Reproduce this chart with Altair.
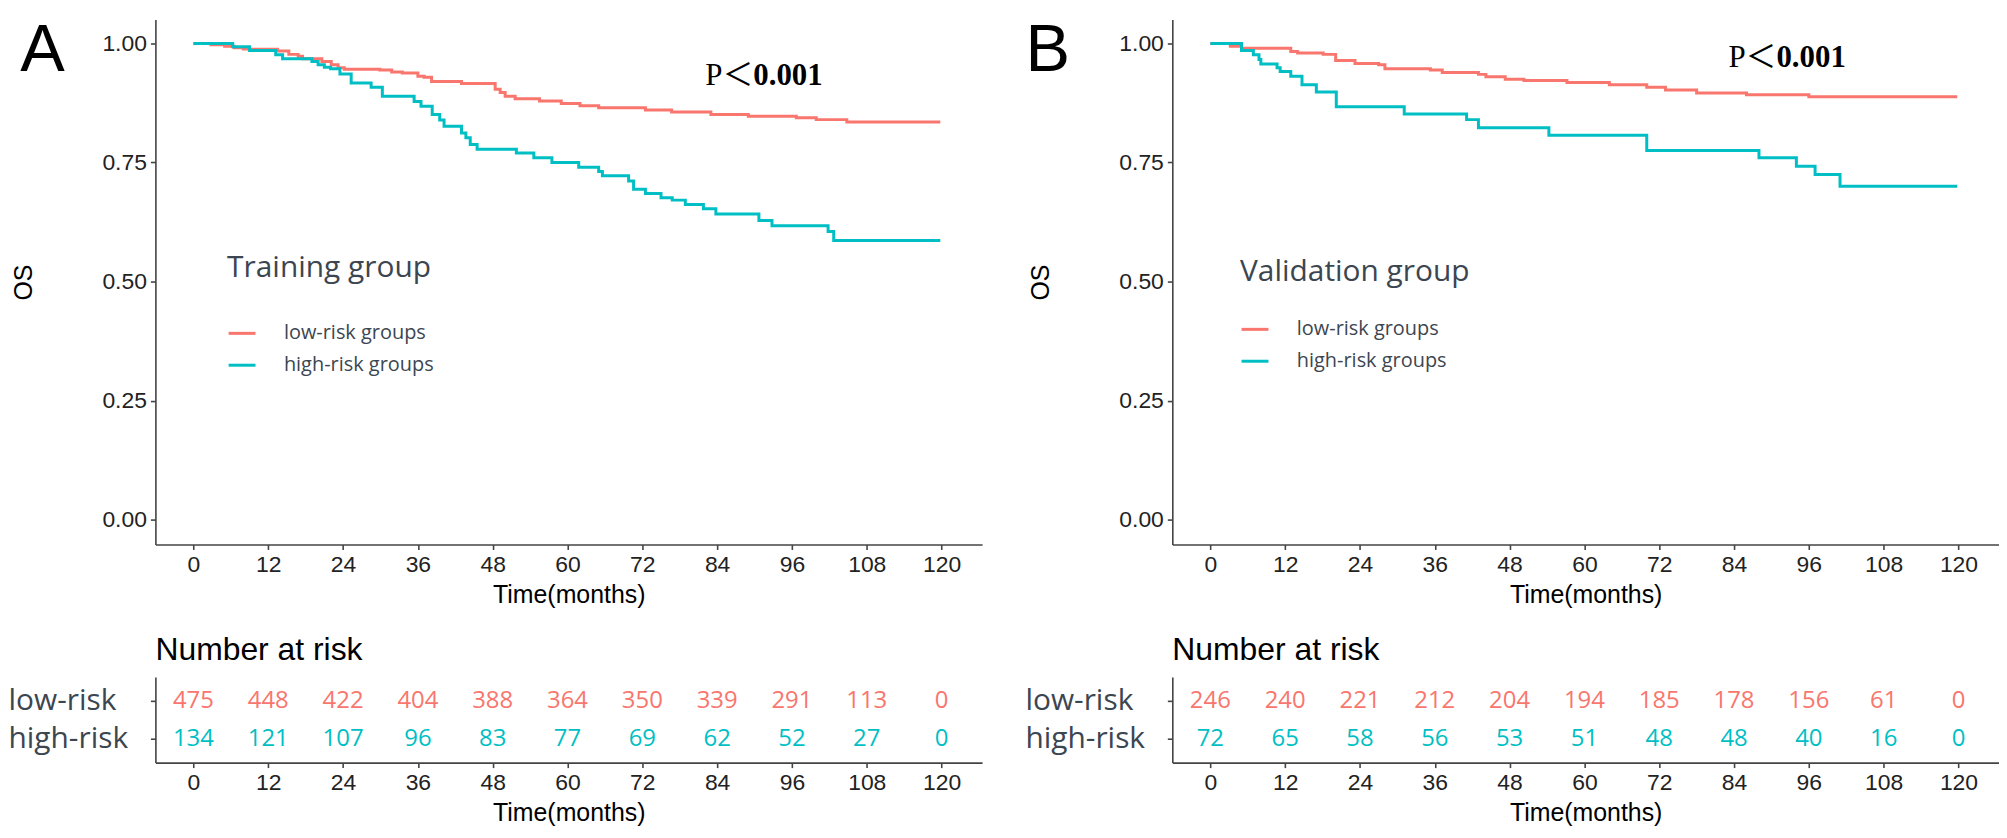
import altair as alt
import pandas as pd

# ---------------- data ----------------
ticks = [0, 12, 24, 36, 48, 60, 72, 84, 96, 108, 120]
y_ticks = [0.0, 0.25, 0.5, 0.75, 1.0]
groups = ["low-risk groups", "high-risk groups"]
rows = ["low-risk", "high-risk"]

# Training group (panel A) Kaplan-Meier steps
train_low_t = [0, 2.8, 5, 6.5, 8, 13.5, 15.3, 16.8, 17.5, 20.6, 22.1, 23.2, 24.2, 29.9, 31.8,
               33.5, 36, 37, 38.2, 43, 48.4, 49.2, 50, 51.6, 55.5, 59, 62, 65, 72.5, 76.7,
               83, 89, 96.7, 99.9, 104.8, 119.8]
train_low_s = [1.0, 0.997, 0.994, 0.991, 0.988, 0.984, 0.977, 0.973, 0.968, 0.962, 0.955, 0.949,
               0.946, 0.944, 0.940, 0.938, 0.931, 0.929, 0.920, 0.916, 0.904, 0.897, 0.889, 0.884,
               0.879, 0.874, 0.869, 0.865, 0.860, 0.856, 0.851, 0.847, 0.844, 0.840, 0.835, 0.835]
train_high_t = [0, 6.3, 9, 13.2, 14.3, 19, 20, 21, 22, 23.5, 25.3, 28.5, 30.3, 35.4, 36.5, 38.3,
                39.5, 40.2, 43, 43.7, 44.4, 45.5, 51.8, 54.6, 57.5, 61.8, 65, 65.6, 69.8, 70.6,
                72.5, 75, 76.8, 78.9, 81.8, 83.8, 90.7, 92.8, 101.8, 102.7, 119.8]
train_high_s = [1.0, 0.993, 0.985, 0.976, 0.968, 0.962, 0.955, 0.950, 0.947, 0.936, 0.917, 0.908,
                0.889, 0.878, 0.868, 0.851, 0.839, 0.826, 0.812, 0.802, 0.788, 0.778, 0.770,
                0.760, 0.750, 0.740, 0.731, 0.722, 0.711, 0.694, 0.685, 0.676, 0.671, 0.662,
                0.653, 0.642, 0.628, 0.617, 0.605, 0.586, 0.586]

# Validation group (panel B)
valid_low_t = [0, 3.2, 5, 12.9, 14, 18.1, 20.1, 23.2, 27, 28, 35.3, 37.2, 43, 44.2, 47.3, 50.3,
               57.2, 64, 70, 73, 78, 86, 96, 119.8]
valid_low_s = [1.0, 0.994, 0.990, 0.983, 0.980, 0.977, 0.964, 0.958, 0.955, 0.947, 0.944, 0.939,
               0.935, 0.930, 0.925, 0.922, 0.918, 0.913, 0.908, 0.902, 0.896, 0.892, 0.888, 0.888]
valid_high_t = [0, 5, 6.9, 7.8, 8.1, 10.7, 11.2, 12.9, 14.7, 17.0, 20.2, 31.1, 41.1, 43, 54.3,
                70, 88, 94, 97, 101, 119.8]
valid_high_s = [1.0, 0.985, 0.976, 0.966, 0.957, 0.949, 0.941, 0.931, 0.913, 0.898, 0.867, 0.852,
                0.840, 0.823, 0.807, 0.775, 0.760, 0.742, 0.725, 0.700, 0.700]

# Numbers at risk
train_low_n = [475, 448, 422, 404, 388, 364, 350, 339, 291, 113, 0]
train_high_n = [134, 121, 107, 96, 83, 77, 69, 62, 52, 27, 0]
valid_low_n = [246, 240, 221, 212, 204, 194, 185, 178, 156, 61, 0]
valid_high_n = [72, 65, 58, 56, 53, 51, 48, 48, 40, 16, 0]

# ---------------- styling ----------------
COLORS = ["#F8766D", "#00BFC4"]
SLATE = "#3C4650"
AXIS_FONT = "Liberation Sans"
P_FONT = "Liberation Serif, 'Noto Sans CJK SC'"
X_DOMAIN = [-6.1, 126.5]
Y_DOMAIN = [-0.052, 1.05]
W, H_MAIN, H_RISK = 830, 527, 86

color_scale = alt.Scale(domain=groups, range=COLORS)


def km_frame(t_low, s_low, t_high, s_high):
    parts = []
    for t, s, g in ((t_low, s_low, groups[0]), (t_high, s_high, groups[1])):
        parts.append(pd.DataFrame({"t": t, "s": s, "group": g}))
    return pd.concat(parts, ignore_index=True)


def risk_frame(n_low, n_high):
    parts = []
    for n, r, g in ((n_low, rows[0], groups[0]), (n_high, rows[1], groups[1])):
        parts.append(pd.DataFrame({"t": ticks, "n": n, "row": r, "group": g}))
    return pd.concat(parts, ignore_index=True)


def x_enc():
    return alt.X("t:Q", scale=alt.Scale(domain=X_DOMAIN, nice=False, zero=False),
                 axis=alt.Axis(values=ticks, title="Time(months)", labelPadding=4,
                               titlePadding=6, grid=False))


def y_enc():
    return alt.Y("s:Q", scale=alt.Scale(domain=Y_DOMAIN, nice=False, zero=False),
                 axis=alt.Axis(values=y_ticks, format=".2f", title="OS", titleX=-132,
                               titleBaseline="middle", labelPadding=4, grid=False))


def main_panel(df, legend_title, legend_x, legend_y, title_pad, letter, letter_pos, p_pos):
    lines = alt.Chart(df).mark_line(interpolate="step-after", strokeWidth=3).encode(
        x=x_enc(), y=y_enc(),
        color=alt.Color("group:N", scale=color_scale,
                        legend=alt.Legend(title=legend_title, orient="none", legendX=legend_x,
                                          legendY=legend_y, direction="vertical",
                                          symbolType="stroke", symbolStrokeWidth=3,
                                          symbolSize=729, titleFont="Open Sans",
                                          titleFontSize=30, titleFontWeight="normal",
                                          titleColor=SLATE, labelFont="Open Sans",
                                          labelFontSize=20, labelColor=SLATE,
                                          titlePadding=title_pad, rowPadding=7,
                                          labelOffset=27, padding=0, titleLimit=500,
                                          labelLimit=500)),
    )
    letter_df = pd.DataFrame({"t": [letter_pos[0]], "s": [letter_pos[1]], "label": [letter]})
    letter_mark = alt.Chart(letter_df).mark_text(
        font=AXIS_FONT, fontSize=67, align="center", baseline="alphabetic", color="black"
    ).encode(x=x_enc(), y=y_enc(), text="label:N")
    p_df = pd.DataFrame({"t": [p_pos[0]], "s": [p_pos[1]], "a": ["P＜"], "b": ["0.001"]})
    p1 = alt.Chart(p_df).mark_text(
        font=P_FONT, fontSize=31, align="right", baseline="middle", color="black"
    ).encode(x=x_enc(), y=y_enc(), text="a:N")
    p2 = alt.Chart(p_df).mark_text(
        font="Liberation Serif", fontSize=31, fontWeight="bold", align="left",
        baseline="middle", color="black"
    ).encode(x=x_enc(), y=y_enc(), text="b:N")
    return alt.layer(lines, letter_mark, p1, p2).properties(width=W, height=H_MAIN)


def risk_panel(df):
    return alt.Chart(df).mark_text(font="Open Sans", fontSize=24, baseline="middle").encode(
        x=x_enc(),
        y=alt.Y("row:N", sort=rows, scale=alt.Scale(type="point", padding=0.63),
                axis=alt.Axis(title=None, labelAlign="left", labelPadding=143,
                              labelFont="Open Sans", labelFontSize=30, labelColor=SLATE,
                              labelLimit=400, labelBaseline="middle")),
        color=alt.Color("group:N", scale=color_scale, legend=None),
        text="n:Q",
    ).properties(width=W, height=H_RISK,
                 title=alt.TitleParams("Number at risk", anchor="start", frame="group",
                                       font=AXIS_FONT, fontSize=32, fontWeight="normal",
                                       color="black", offset=10))


mainA = main_panel(km_frame(train_low_t, train_low_s, train_high_t, train_high_s),
                   "Training group", 72, 234, 36, "A", (-24.2, 0.9414), (89.8, 0.931))
mainB = main_panel(km_frame(valid_low_t, valid_low_s, valid_high_t, valid_high_s),
                   "Validation group", 68, 238, 28, "B", (-26.1, 0.9414), (90.8, 0.969))
riskA = risk_panel(risk_frame(train_low_n, train_high_n))
riskB = risk_panel(risk_frame(valid_low_n, valid_high_n))

chart = alt.concat(
    mainA, mainB, riskA, riskB, columns=2, bounds="flush",
    spacing=alt.RowColnumber(row=133, column=191),
).resolve_scale(color="independent", x="independent", y="independent").properties(
    padding={"top": 7, "left": 0, "right": 0, "bottom": 0}
).configure_view(stroke=None).configure_axis(
    domainColor="#444444", domainWidth=1.6, tickColor="#444444", tickWidth=1.6, tickSize=5,
    labelFont=AXIS_FONT, labelFontSize=23, labelColor="#222222",
    titleFont=AXIS_FONT, titleFontSize=25, titleFontWeight="normal", titleColor="black",
)

chart.save("out.html", embed_options={"renderer": "svg", "actions": False})
